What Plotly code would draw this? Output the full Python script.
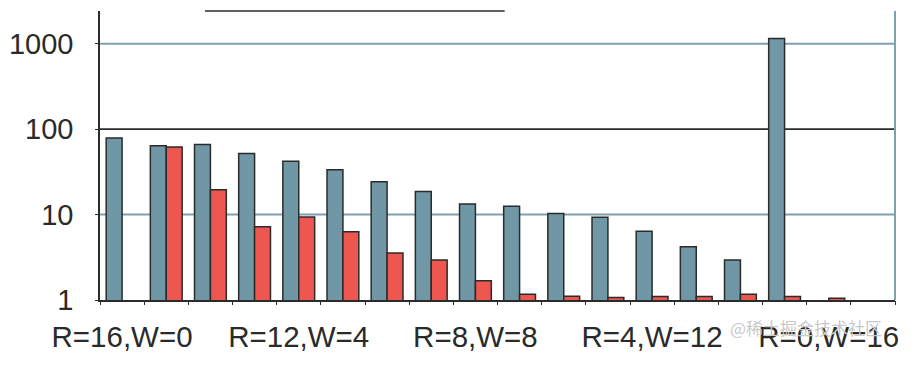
import math
import plotly.graph_objects as go

categories = [f"R={16 - i},W={i}" for i in range(17)]
series_a = [79, 64, 66, 52, 42, 33.6, 24.3, 18.7, 13.3, 12.5, 10.3, 9.3, 6.4, 4.2, 2.94, 1157, None]
series_b = [None, 62, 19.6, 7.2, 9.4, 6.3, 3.55, 2.94, 1.68, 1.17, 1.11, 1.07, 1.1, 1.1, 1.17, 1.1, 1.05]
label_positions = [0, 4, 8, 12, 16]
y_tick_vals = [1, 10, 100, 1000]
y_tick_text = ["1", "10", "100", "1000"]
grid_vals = [10, 100, 1000]

BLUE = "#6f97a6"
RED = "#ee5650"
EDGE = "#2b2b2b"
GRID_BLUE = "#7fa1ae"
TEXT = "#2a2a2a"
YMAX_LOG = 3.384

x = list(range(len(categories)))

fig = go.Figure()
fig.add_trace(go.Bar(x=x, y=series_a, marker=dict(color=BLUE, line=dict(color=EDGE, width=1.5)),
                     showlegend=False))
fig.add_trace(go.Bar(x=x, y=series_b, marker=dict(color=RED, line=dict(color=EDGE, width=1.5)),
                     showlegend=False))
# invisible trace to host the boundary-tick axis
fig.add_trace(go.Scatter(x=[-0.5, 17.5], y=[None, None], xaxis="x2", showlegend=False, hoverinfo="skip"))

fig.update_layout(
    width=910, height=364,
    margin=dict(l=92, r=23, t=3, b=72, autoexpand=False),
    paper_bgcolor="white", plot_bgcolor="white",
    barmode="group", bargap=0.28, bargroupgap=0,
    font=dict(family="Liberation Sans, Arial, sans-serif", size=29.5, color=TEXT),
    xaxis=dict(
        range=[-0.5, 17.5],
        tickmode="array",
        tickvals=label_positions,
        ticktext=[categories[i] for i in label_positions],
        ticks="", showgrid=False, zeroline=False,
        showline=True, linecolor=EDGE, linewidth=1.5,
        ticklabelstandoff=10, automargin=False,
        tickfont=dict(size=29.5, color=TEXT),
    ),
    xaxis2=dict(
        overlaying="x", side="bottom", anchor="y",
        range=[-0.5, 17.5],
        tickmode="array",
        tickvals=[i - 0.5 for i in range(19)],
        showticklabels=False, automargin=False,
        ticks="outside", ticklen=4, tickwidth=1.2, tickcolor=EDGE,
        showgrid=False, zeroline=False, showline=False,
    ),
    yaxis=dict(
        type="log",
        range=[0, YMAX_LOG],
        tickmode="array",
        tickvals=y_tick_vals, ticktext=y_tick_text,
        ticks="outside", ticklen=3, tickcolor=EDGE,
        showgrid=False,
        zeroline=False, automargin=False,
        showline=True, linecolor=EDGE, linewidth=1.5,
        ticklabelstandoff=16,
        tickfont=dict(size=29, color=TEXT),
    ),
)

# gridlines: blue at 10 and 1000, dark at 100
for gv in grid_vals:
    pos = math.log10(gv) / YMAX_LOG
    col = EDGE if gv == 100 else GRID_BLUE
    fig.add_shape(type="line", xref="paper", yref="paper",
                  x0=0, x1=1, y0=pos, y1=pos,
                  line=dict(color=col, width=2 if gv != 100 else 1.8), layer="below")
# right border
fig.add_shape(type="line", xref="paper", yref="paper", x0=1, x1=1, y0=0, y1=1,
              line=dict(color=GRID_BLUE, width=2))
# partial top line
fig.add_shape(type="line", xref="paper", yref="paper", x0=0.132, x1=0.509, y0=1, y1=1,
              line=dict(color=EDGE, width=1.5))

fig.add_annotation(text="@稀土掘金技术社区", xref="paper", yref="paper", x=0.79, y=-0.095,
                   xanchor="left", yanchor="middle", showarrow=False,
                   font=dict(family="Noto Sans CJK SC", size=17, color="#c9c9c9"))

fig.write_html("out.html")
